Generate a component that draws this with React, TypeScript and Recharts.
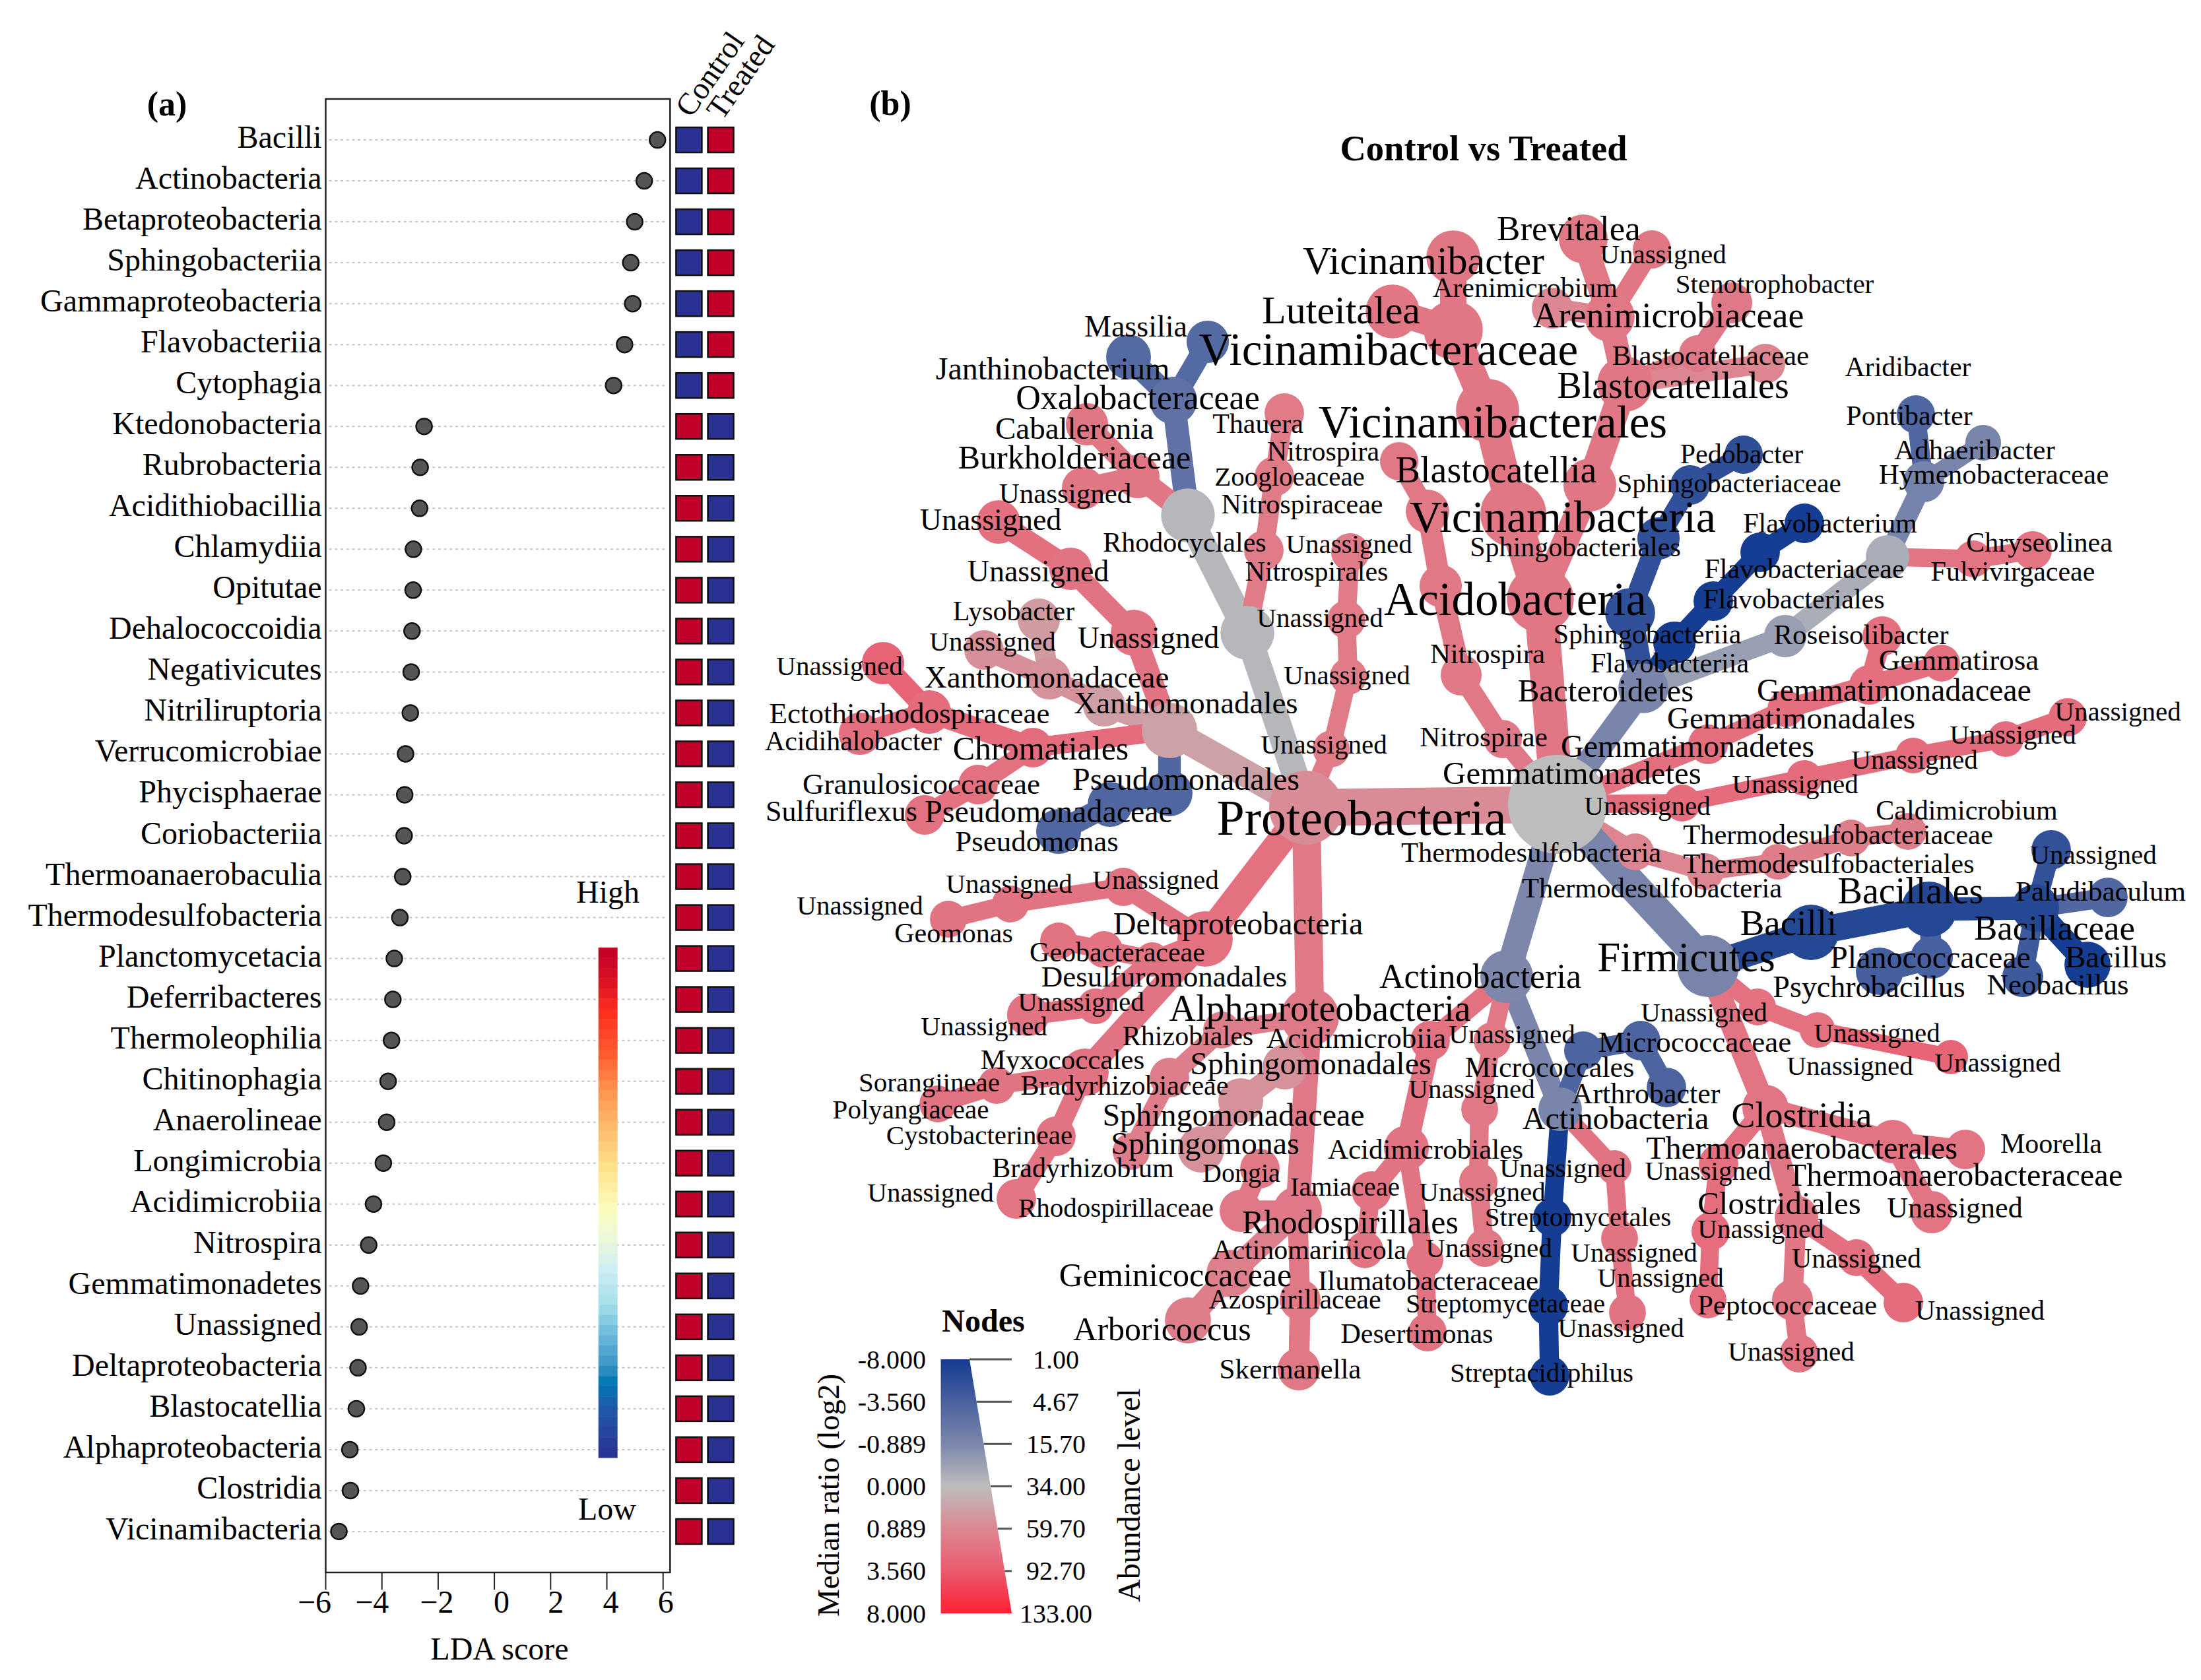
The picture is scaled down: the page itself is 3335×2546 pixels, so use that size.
import React from "react";
import { ScatterChart, Scatter, XAxis, YAxis, ReferenceLine, ReferenceArea } from "recharts";

const FONT = "'Liberation Serif', serif";

// ---------- Panel (a) data ----------
const taxa = ["Bacilli","Actinobacteria","Betaproteobacteria","Sphingobacteriia","Gammaproteobacteria","Flavobacteriia","Cytophagia","Ktedonobacteria","Rubrobacteria","Acidithiobacillia","Chlamydiia","Opitutae","Dehalococcoidia","Negativicutes","Nitriliruptoria","Verrucomicrobiae","Phycisphaerae","Coriobacteriia","Thermoanaerobaculia","Thermodesulfobacteria","Planctomycetacia","Deferribacteres","Thermoleophilia","Chitinophagia","Anaerolineae","Longimicrobia","Acidimicrobiia","Nitrospira","Gemmatimonadetes","Unassigned","Deltaproteobacteria","Blastocatellia","Alphaproteobacteria","Clostridia","Vicinamibacteria"];
const ldaScores = [5.8,5.33,4.99,4.85,4.92,4.63,4.24,-2.5,-2.64,-2.66,-2.88,-2.89,-2.93,-2.96,-2.99,-3.16,-3.19,-3.21,-3.26,-3.36,-3.56,-3.61,-3.66,-3.78,-3.83,-3.95,-4.3,-4.47,-4.76,-4.81,-4.85,-4.91,-5.14,-5.12,-5.53];
const ldaTicks = [-6,-4,-2,0,2,4,6];
const enrichedInTreatedCount = 7;
const colorbarOffsets = [0,0.06,0.13,0.21,0.265,0.32,0.38,0.44,0.516,0.58,0.63,0.7,0.75,0.82,0.855,0.9,1];
const colorbarColors = ["#C00028","#D90F24","#FF3020","#FF5C30","#FF8A48","#FFAA5C","#FFC878","#FFE58F","#FBFEC0","#E8F7DE","#CDEEF4","#A5DFE9","#74BFDC","#3B93C5","#0077B5","#1F5BA8","#2B3192"];

// ---------- Panel (b) data: [name, parent, layoutX, layoutY, abundance, log2 ratio] ----------
type Row = [string, string | null, number, number, number, number];
const rootNodes: Row[] = [["root",null,2360,1219,133,0]];
const proteoNodes: Row[] = [
["P","root",1979,1224,53,0.8],["Xa","P",1772,1107,15.7,0.45],["Xo","Xa",1673,1069,3.8,0.5],["Xc","Xo",1590,1028,3.8,0.7],["Lyso","Xc",1574,939,3.8,0.55],["XU","Xc",1491,985,2.8,0.75],
["Chro","Xa",1565,1133,2.8,2.5],["Ect","Chro",1408,1079,4.2,2.5],["ECU","Ect",1338,1005,3.8,3],["Acidih","Ect",1303,1112,3.8,2.3],["Gran","Chro",1482,1189,2.8,2.2],["Sulf","Gran",1401,1235,2.8,2.2],
["Pso","Xa",1772,1202,6,-3.3],["Psc","Pso",1682,1219,4.7,-3.3],["Psm","Psc",1604,1260,4.7,-3.3],["XU1","Xa",1718,959,6,2.1],["XU2","XU1",1622,862,3.8,2.1],["XU3","XU2",1513,791,4.2,2.3],
["Beta","P",1890,959,14,-0.1],["Bu","Beta",1800,781,14,-0.1],["Oxa","Bu",1778,607,7.4,-2.4],["Jan","Oxa",1710,541,4.7,-3],["Mas","Oxa",1830,518,3.8,-3],["Burk","Bu",1724,722,4.2,1.9],["Cab","Burk",1647,643,3.8,1.9],["BurU","Burk",1641,740,3.8,1.9],
["Rho","Beta",1915,834,2.8,1.6],["Zoo","Rho",1931,722,2.8,1.6],["Tha","Zoo",1946,626,2.8,1.6],["U1","P",2017,1135,1.9,1.6],["U2","U1",2043,1025,1.9,1.6],["U3","U2",2040,939,2.4,1.6],["U4","U3",2046,837,2.4,1.6],
];
const deltaNodes: Row[] = [
["Delta","P",1826,1423,15.7,2.2],["DU1","Delta",1702,1344,2.4,2.1],["DU2","DU1",1531,1370,1.9,2.1],["Geom","DU2",1437,1393,1.9,2.1],["Des","Delta",1746,1454,1,2.1],["Geob","Des",1673,1439,1.9,2.1],["Geo2","Geob",1604,1426,1.9,2.1],
["Myx","Delta",1644,1625,7.4,2.1],["Cys","Myx",1600,1722,2.8,2.1],["CysU","Cys",1540,1817,2.8,2.0],["Sor","Myx",1510,1645,1.9,2.1],["Pol","Sor",1421,1673,1.9,2.1],["DU3","Des",1660,1525,1.5,2.1],["DU4","DU3",1558,1538,3.8,2.1],
];
const alphaNodes: Row[] = [
["Alpha","P",1985,1541,20,1.7],["Rz","Alpha",1851,1561,1.9,1.4],["Brc","Rz",1772,1633,2.8,1.4],["Brm","Brc",1714,1745,1.9,1.5],["Sph","Alpha",1947,1617,4.7,0.7],["Spc","Sph",1880,1668,4.7,0.7],["Spm","Spc",1820,1742,6,0.7],
["Rds","Alpha",1966,1835,8.8,1.7],["Rdc","Rds",1880,1835,3.8,1.7],["Don","Rdc",1909,1771,2.8,1.8],["Azo","Rds",1970,1970,3.3,1.8],["Ske","Azo",1968,2075,3.8,1.8],["Gem","Rds",1864,1930,7.4,1.3],["Arb","Gem",1800,2001,6,1.4],
];
const acidoNodes: Row[] = [
["Ac","root",2334,908,36,1.9],["Vb","Ac",2293,779,34,1.9],["Vs","Vb",2254,622,29,1.9],["Vc","Vs",2202,500,22,1.9],["Lut","Vc",2110,472,14,1.9],["Vib","Vc",2202,390,14,1.9],
["Bl","Ac",2409,735,13,1.9],["Bls","Bl",2462,582,15.7,1.9],["Arc","Bls",2439,480,10,1.8],["Arm","Arc",2352,467,3.3,0.9],["Bre","Arc",2399,362,8.8,1.8],["ArU","Arc",2503,378,2.4,1.9],["Blc","Bls",2572,536,1.9,1.7],["Ste","Blc",2624,459,3.3,1.7],["Ari","Bls",2675,551,2.8,0.95],
["Nt","root",2277,1120,2.4,1.7],["Ncl","Nt",2214,1023,3.3,1.8],["Nor","Ncl",2183,888,3.8,1.8],["Nce","Nor",2163,775,4.2,1.8],["Nge","Nce",2120,699,2.4,1.8],
];
const bacteroNodes: Row[] = [
["Bd","root",2490,1043,10,-1],["Si","Bd",2470,929,10,-5.6],["Sl","Si",2513,816,3.8,-5.6],["Sc","Sl",2561,735,2.8,-5.6],["Ped","Sc",2642,689,2.4,-5.8],["Fi","Bd",2537,974,3.8,-7.8],["Fl","Fi",2596,911,2.8,-7.8],["Fc","Fl",2667,837,2.8,-7.8],["Fv","Fc",2734,793,2.8,-7.8],
["Cy","Bd",2705,964,3.8,-0.5],["CyL","Cy",2860,844,4.2,-0.25],["Hy","CyL",2915,730,3.3,-1.2],["Pon","Hy",2903,628,2.4,-3.2],["Adh","Hy",3005,671,1.5,-1.1],["Fu","CyL",2990,847,1.9,2],["Chr","Fu",3080,834,2.4,2],
];
const gemmaNodes: Row[] = [
["Gm","root",2588,1128,2.8,2.3],["Gl","Gm",2706,1074,1.9,2.3],["Gc","Gl",2832,1038,2.8,2.3],["Ros","Gc",2852,964,2.8,2.3],["Gir","Gc",2942,1005,1.9,2.3],
["US1","root",2549,1217,1.9,2.5],["US2","US1",2734,1179,1.5,2.5],["US3","US2",2899,1145,1.5,2.5],["US4","US3",3039,1120,1.5,2.5],["US5","US4",3133,1087,2.4,2.5],
["Td1","root",2478,1291,1.9,1],["Td2","Td1",2584,1321,1.9,1],["Td3","Td2",2694,1306,1.5,1.4],["Td4","Td3",2805,1270,1.9,1.4],["Td5","Td4",2891,1260,1.9,1.4],
];
const firmiNodes: Row[] = [
["Fm","root",2588,1464,27,-1.1],["Bi","Fm",2744,1413,15.7,-6.5],["Bs","Bi",2923,1378,15.7,-6.5],["Bc","Bs",3084,1376,7.4,-6.5],["Pal","Bc",3194,1360,2.8,-3.2],["BU","Bc",3108,1288,2.8,-5.5],["Bcl","Bc",3163,1462,6,-7.8],["Neo","Bc",3065,1480,3.3,-4.5],["Pl","Bs",2927,1451,3.8,-3.8],["Psy","Pl",2848,1472,7.4,-4],
["Cl","Fm",2675,1679,6,2],["FU1","Fm",2663,1526,1.9,2.2],["FU2","FU1",2754,1561,1.5,2.2],["FU3","FU2",2956,1602,1,2.9],["TA","Cl",2868,1730,4.2,2],["Moo","TA",2978,1742,2.8,2],["TAU","TA",2927,1837,3.8,2],
["CU1","Cl",2604,1764,2.8,2.2],["CU2","CU1",2592,1866,2.4,2.4],["CU3","CU2",2588,1970,1.9,2.4],["Cd","Cl",2722,1845,4.2,1.9],["Pep","Cd",2716,1970,3.3,1.9],["PU","Pep",2726,2051,2.4,2],["CdU1","Cd",2813,1906,1.9,2.3],["CdU2","CdU1",2884,1974,2.8,2.5],
];
const actinoNodes: Row[] = [
["Ap","root",2283,1480,13,-0.9],["Ac2","Ap",2364,1681,4.2,-1],["Mc","Ac2",2399,1592,2.4,-3.4],["Mcc","Mc",2486,1577,2.8,-3.4],["Art","Mcc",2525,1648,2.8,-3.4],["St","Ac2",2352,1845,2.4,-7.8],["Stc","St",2346,1979,2.8,-7.8],["Sta","Stc",2348,2085,2.8,-7.8],
["AU1","Ac2",2446,1769,1,2.1],["AU2","AU1",2454,1877,1.9,2.1],["AU3","AU2",2466,1989,1.9,2.1],["Am","Ap",2167,1577,2.8,2.2],["Aml","Am",2131,1740,4.7,2.1],["Iam","Aml",2078,1805,2.8,2.1],["Acm","Iam",2068,1894,1.9,2.1],["Ilu","Aml",2159,1909,1.9,2.1],["Des2","Ilu",2163,2019,2.4,2.1],
["APU1","Ap",2261,1577,1.9,1.8],["APU2","APU1",2242,1681,1.9,1.8],["APU3","APU2",2240,1791,2.4,1.8],["APU4","APU3",2250,1891,2.4,1.8],
];
const allRows: Row[] = [...rootNodes,...proteoNodes,...deltaNodes,...alphaNodes,...acidoNodes,...bacteroNodes,...gemmaNodes,...firmiNodes,...actinoNodes];

// [text, x, y, fontSize]
type Lab = [string, number, number, number];
const labelsTopLeft: Lab[] = [
["Massilia",1721,494,46],["Janthinobacterium",1595,558,48],["Oxalobacteraceae",1724,602,52],["Caballeronia",1628,649,47],["Burkholderiaceae",1628,693,50],["Unassigned",1614,747,43],["Unassigned",1501,787,46],
["Thauera",1906,642,42],["Nitrospira",2005,684,42],["Zoogloeaceae",1954,722,41],["Nitrospiraceae",1973,764,42],["Rhodocyclales",1795,822,42],["Unassigned",2044,824,41],["Nitrospirales",1995,866,42],["Unassigned",1573,865,46],
["Lysobacter",1536,926,42],["Unassigned",1504,972,41],["Unassigned",1740,966,46],["Unassigned",2000,936,41],["Unassigned",1272,1009,41],["Xanthomonadaceae",1586,1026,47],["Xanthomonadales",1797,1065,47],["Unassigned",2041,1023,41],
["Ectothiorhodospiraceae",1378,1081,45],["Acidihalobacter",1293,1123,42],["Chromatiales",1577,1134,50],["Unassigned",2006,1128,41],["Granulosicoccaceae",1396,1188,45],["Pseudomonadales",1797,1180,48],["Sulfuriflexus",1275,1229,44],["Pseudomonadaceae",1589,1229,48],["Pseudomonas",1571,1275,45],["Proteobacteria",2063,1239,76],
];
const labelsBottomLeft: Lab[] = [
["Unassigned",1529,1339,41],["Unassigned",1751,1333,41],["Unassigned",1303,1372,41],["Geomonas",1445,1414,42],["Deltaproteobacteria",1876,1399,48],["Geobacteraceae",1693,1443,42],["Desulfuromonadales",1764,1480,45],["Unassigned",1638,1518,41],["Alphaproteobacteria",2000,1528,56],["Unassigned",1491,1555,41],
["Rhizobiales",1800,1570,42],["Acidimicrobiia",2055,1573,45],["Myxococcales",1610,1605,43],["Sphingomonadales",1986,1611,48],["Bradyrhizobiaceae",1704,1645,42],["Sorangiineae",1408,1640,41],["Polyangiaceae",1380,1681,41],["Sphingomonadaceae",1869,1689,48],["Cystobacterineae",1484,1720,41],["Sphingomonas",1826,1732,48],
["Acidimicrobiales",2160,1741,43],["Bradyrhizobium",1641,1770,42],["Dongia",1881,1777,40],["Iamiaceae",2038,1798,41],["Unassigned",1410,1807,41],["Rhodospirillaceae",1691,1830,41],["Rhodospirillales",2046,1852,50],["Actinomarinicola",1984,1894,42],["Geminicoccaceae",1781,1932,50],["Ilumatobacteraceae",2164,1940,43],["Azospirillaceae",1962,1969,42],["Streptomycetaceae",2281,1975,40],["Streptomycetales",2391,1844,41],["Arboricoccus",1761,2014,50],["Desertimonas",2147,2021,42],["Skermanella",1955,2074,43],["Streptacidiphilus",2336,2080,41],
];
const labelsRight: Lab[] = [
["Bacteroidetes",2433,1046,49],["Nitrospirae",2248,1116,43],["Gemmatimonadetes",2557,1130,48],["Gemmatimonadetes",2382,1171,49],["Gemmatimonadales",2714,1088,47],["Gemmatimonadaceae",2870,1045,48],["Gemmatirosa",2968,1000,45],["Roseisolibacter",2820,961,43],
["Unassigned",3209,1078,41],["Unassigned",3050,1113,41],["Unassigned",2901,1151,41],["Unassigned",2720,1188,41],["Unassigned",2496,1221,41],["Caldimicrobium",2980,1228,42],["Thermodesulfobacteriaceae",2785,1264,42.5],["Thermodesulfobacteria",2320,1291,42.5],["Thermodesulfobacteriales",2771,1308,42.5],["Thermodesulfobacteria",2503,1345,42.5],["Unassigned",3172,1295,41],
["Bacillales",2895,1350,56],["Paludibaculum",3183,1350,43],["Bacilli",2710,1398,55],["Bacillaceae",3113,1406,53],["Firmicutes",2555,1451,63],["Planococcaceae",2925,1450,48],["Bacillus",3206,1450,47],["Psychrobacillus",2832,1495,46],["Neobacillus",3118,1492,45],["Actinobacteria",2243,1479,52],
["Unassigned",2582,1534,41],["Unassigned",2291,1567,41],["Micrococcaceae",2568,1579,45],["Unassigned",2844,1565,41],["Unassigned",2803,1615,41],["Micrococcales",2348,1617,44],["Unassigned",3027,1610,41],["Unassigned",2230,1650,41],["Arthrobacter",2494,1657,44],["Actinobacteria",2448,1694,48],["Clostridia",2730,1690,54],["Moorella",3108,1733,42],["Thermoanaerobacterales",2730,1739,48],["Thermoanaerobacteraceae",2962,1780,48.5],["Unassigned",2588,1774,41],["Unassigned",2368,1770,41],["Unassigned",2962,1830,44],["Clostridiales",2696,1823,49],
["Unassigned",2246,1806,41],["Unassigned",2668,1862,41],["Unassigned",2256,1891,41],["Unassigned",2813,1907,42],["Unassigned",2476,1898,41],["Unassigned",2516,1936,41],["Peptococcaceae",2708,1977,43],["Unassigned",3000,1986,42],["Unassigned",2456,2012,41],["Unassigned",2714,2048,41],
];
const labelsTop: Lab[] = [
["Brevitalea",2377,346,53],["Vicinamibacter",2157,395,60],["Unassigned",2520,385,41],["Arenimicrobium",2311,436,42],["Stenotrophobacter",2689,430,41],["Luteitalea",2032,470,60],["Arenimicrobiaceae",2528,478,54],["Vicinamibacteraceae",2104,530,69],["Blastocatellaceae",2592,538,43],["Aridibacter",2891,556,42],["Blastocatellales",2535,584,56],["Vicinamibacterales",2262,640,69],
["Pontibacter",2893,630,42],["Pedobacter",2639,688,42],["Adhaeribacter",2992,681,43],["Sphingobacteriaceae",2620,732,41],["Hymenobacteraceae",3021,718,43],["Blastocatellia",2267,712,56],["Vicinamibacteria",2368,783,68],["Flavobacterium",2773,793,42],["Sphingobacteriales",2387,829,42],["Chryseolinea",3090,822,42],["Flavobacteriaceae",2734,862,42],["Fulvivirgaceae",3050,866,42],["Flavobacteriales",2718,908,42],["Acidobacteria",2296,908,71],["Nitrospira",2254,990,43],["Sphingobacteriia",2496,961,42],["Flavobacteriia",2530,1005,42],
];
const allLabels: Lab[] = [...labelsTopLeft,...labelsBottomLeft,...labelsRight,...labelsTop];

// ---------- Legend values ----------
const ratioStops = [-8,-3.56,-0.889,0,0.889,3.56,8];
const ratioLabels = ["-8.000","-3.560","-0.889","0.000","0.889","3.560","8.000"];
const ratioColors = ["#123B90","#4A62A0","#7C87AB","#BDBDBD","#DC8792","#EA5A6E","#FF2033"];
const abundanceStops = [1,4.67,15.7,34,59.7,92.7,133];
const abundanceLabels = ["1.00","4.67","15.70","34.00","59.70","92.70","133.00"];

// ---------- Scales ----------
const radiusRange = [26,34,42,50,58,67,75];
function lerpStops(v: number, xs: number[], ys: number[]) {
  for (let i = 0; i < xs.length - 1; i++) {
    if (v <= xs[i + 1]) {
      const t = Math.max(0, (v - xs[i]) / (xs[i + 1] - xs[i]));
      return ys[i] + t * (ys[i + 1] - ys[i]);
    }
  }
  return ys[ys.length - 1];
}
const radiusOf = (ab: number) => lerpStops(ab, abundanceStops, radiusRange);
function rampColor(v: number, xs: number[], colors: string[]) {
  const ch = (o: number) => lerpStops(v, xs, colors.map((c) => parseInt(c.slice(o, o + 2), 16)));
  return `rgb(${Math.round(ch(1))},${Math.round(ch(3))},${Math.round(ch(5))})`;
}
const colorOf = (r: number) => rampColor(r, ratioStops, ratioColors);
const widthOf = (r: number) => (r < 45 ? r * 0.98 : r);

const nodes = allRows.map(([name, parent, x, y, ab, ratio]) => ({ name, parent, x, y, ab, ratio, r: radiusOf(ab), color: colorOf(ratio) }));
const byName = new Map(nodes.map((n) => [n.name, n]));
const edges = nodes.filter((n) => n.parent).map((n) => ({ key: n.name, color: n.color, w: widthOf(n.r), pts: [byName.get(n.parent as string), n] }));
const labelPts = allLabels.map(([text, x, y, fs]) => ({ text, x, y, fs }));

const ldaRows = taxa.map((name, i) => ({ name, row: i, lda: ldaScores[i] }));
const CONTROL_COL = 6.92;
const TREATED_COL = 8.05;
const heatRows = taxa.flatMap((name, i) => [
  { row: i, lda: CONTROL_COL, high: i >= enrichedInTreatedCount },
  { row: i, lda: TREATED_COL, high: i < enrichedInTreatedCount },
]);
const rowTicks = taxa.map((_, i) => i);
const tickLabelShift = [-17, -15, -2, 11, 8, 6, 4];

const LdaTick = (p: any) => (
  <text x={p.x + tickLabelShift[p.index]} y={p.y + 16} textAnchor="middle" dominantBaseline="central" fontSize={48} fontFamily={FONT} fill="#000">
    {String(p.payload.value).replace("-", "\u2212")}
  </text>
);
const TaxonTick = (p: any) => (
  <text x={p.x} y={p.y + 12} textAnchor="end" fontSize={48} fontFamily={FONT} fill="#000">{taxa[p.payload.value]}</text>
);

function LeftChart() {
  return (
    <ScatterChart width={1125} height={2546} margin={{ top: 150, right: 5, bottom: 0, left: 0 }}>
      <XAxis type="number" dataKey="lda" domain={[-6, 8.706]} ticks={ldaTicks} interval={0} height={163} tickSize={26} axisLine={false} tickLine={{ stroke: "#222", strokeWidth: 2 }} tick={LdaTick} allowDataOverflow />
      <YAxis type="number" dataKey="row" reversed domain={[-1, 35]} ticks={rowTicks} interval={0} width={493.5} tickSize={0} tickMargin={6} axisLine={false} tickLine={false} tick={TaxonTick} allowDataOverflow />
      <ReferenceArea x1={-6} x2={6.25} y1={-1} y2={35} fill="none" fillOpacity={0} stroke="#222" strokeWidth={2.5} />
      {rowTicks.map((i) => (
        <ReferenceLine key={i} segment={[{ x: -5.88, y: i }, { x: 6.13, y: i }]} stroke="#c4c4c4" strokeWidth={2} strokeDasharray="4 4.7" />
      ))}
      <Scatter data={ldaRows} isAnimationActive={false} shape={(p: any) => <circle cx={p.cx} cy={p.cy} r={12} fill="#555" stroke="#111" strokeWidth={2.5} />} />
      <Scatter data={heatRows} isAnimationActive={false} shape={(p: any) => <rect x={p.cx - 19.5} y={p.cy - 19} width={39} height={38} fill={p.payload.high ? "#C00028" : "#2B3192"} stroke="#111" strokeWidth={2.5} />} />
    </ScatterChart>
  );
}

function TreeChart() {
  return (
    <ScatterChart width={3335} height={2546} margin={{ top: 0, right: 0, bottom: 0, left: 0 }}>
      <XAxis type="number" dataKey="x" domain={[0, 3335]} hide />
      <YAxis type="number" dataKey="y" domain={[0, 2546]} reversed hide />
      {edges.map((e) => (
        <Scatter key={e.key} data={e.pts as any[]} isAnimationActive={false} line={{ stroke: e.color, strokeWidth: e.w }} shape={() => <g />} />
      ))}
      <Scatter data={nodes} isAnimationActive={false} shape={(p: any) => <circle cx={p.cx} cy={p.cy} r={p.payload.r} fill={p.payload.color} />} />
      <Scatter data={labelPts} isAnimationActive={false} shape={(p: any) => (
        <text x={p.cx} y={p.cy} textAnchor="middle" dominantBaseline="central" fontSize={p.payload.fs} fontFamily={FONT} fill="#000">{p.payload.text}</text>
      )} />
    </ScatterChart>
  );
}

const CBAR_STEPS = Array.from({ length: 50 }, (_, i) => i);

function Overlay() {
  const txt = { fontFamily: FONT, fill: "#000" } as const;
  const legendTop = 2060, legendStep = (2445 - 2060) / 6;
  const cbTop = 1436, cbH = 773;
  return (
    <svg width={3335} height={2546} style={{ position: "absolute", left: 0, top: 0 }}>
      <defs>
        <linearGradient id="nodeLegend" x1="0" y1="0" x2="0" y2="1">
          {ratioColors.map((c, i) => <stop key={i} offset={i / 6} stopColor={c} />)}
        </linearGradient>
      </defs>
      <text x={253} y={157} textAnchor="middle" dominantBaseline="central" fontSize={52} fontWeight="bold" {...txt}>(a)</text>
      <text x={1349} y={156} textAnchor="middle" dominantBaseline="central" fontSize={52} fontWeight="bold" {...txt}>(b)</text>
      <text x={2248} y={224} textAnchor="middle" dominantBaseline="central" fontSize={54.5} fontWeight="bold" {...txt}>Control vs Treated</text>
      <text x={757} y={2498} textAnchor="middle" dominantBaseline="central" fontSize={48} {...txt}>LDA score</text>
      <text transform="translate(1047,180) rotate(-55)" fontSize={47} {...txt}>Control</text>
      <text transform="translate(1094,184) rotate(-55)" fontSize={47} {...txt}>Treated</text>
      <text x={921} y={1351} textAnchor="middle" dominantBaseline="central" fontSize={48} {...txt}>High</text>
      <text x={920} y={2286} textAnchor="middle" dominantBaseline="central" fontSize={48} {...txt}>Low</text>
      {CBAR_STEPS.map((i) => (
        <rect key={i} x={906.7} y={cbTop + (i * cbH) / 50} width={29} height={cbH / 50 + 0.5} fill={rampColor((i + 0.5) / 50, colorbarOffsets, colorbarColors)} />
      ))}
      <text x={1490} y={2001} textAnchor="middle" dominantBaseline="central" fontSize={48} fontWeight="bold" {...txt}>Nodes</text>
      <polygon points={`1425.5,${legendTop} 1469,${legendTop} 1533,2445 1425.5,2445`} fill="url(#nodeLegend)" />
      {abundanceLabels.map((lab, i) => {
        const y = legendTop + i * legendStep;
        return (
          <g key={lab}>
            <line x1={1469 + (i / 6) * 64} x2={1533} y1={y} y2={y} stroke="#555" strokeWidth={3} />
            <text x={1403} y={y} textAnchor="end" dominantBaseline="central" fontSize={40} {...txt}>{ratioLabels[i]}</text>
            <text x={1600} y={y} textAnchor="middle" dominantBaseline="central" fontSize={40} {...txt}>{lab}</text>
          </g>
        );
      })}
      <text transform="translate(1255,2266) rotate(-90)" textAnchor="middle" dominantBaseline="central" fontSize={47} {...txt}>Median ratio (log2)</text>
      <text transform="translate(1710,2266) rotate(-90)" textAnchor="middle" dominantBaseline="central" fontSize={48} {...txt}>Abundance level</text>
    </svg>
  );
}

export default function App() {
  return (
    <div style={{ position: "absolute", left: 0, top: 0, width: 3335, height: 2546, background: "#fff", overflow: "hidden" }}>
      <div style={{ position: "absolute", left: 0, top: 0 }}><LeftChart /></div>
      <div style={{ position: "absolute", left: 0, top: 0 }}><TreeChart /></div>
      <Overlay />
    </div>
  );
}
